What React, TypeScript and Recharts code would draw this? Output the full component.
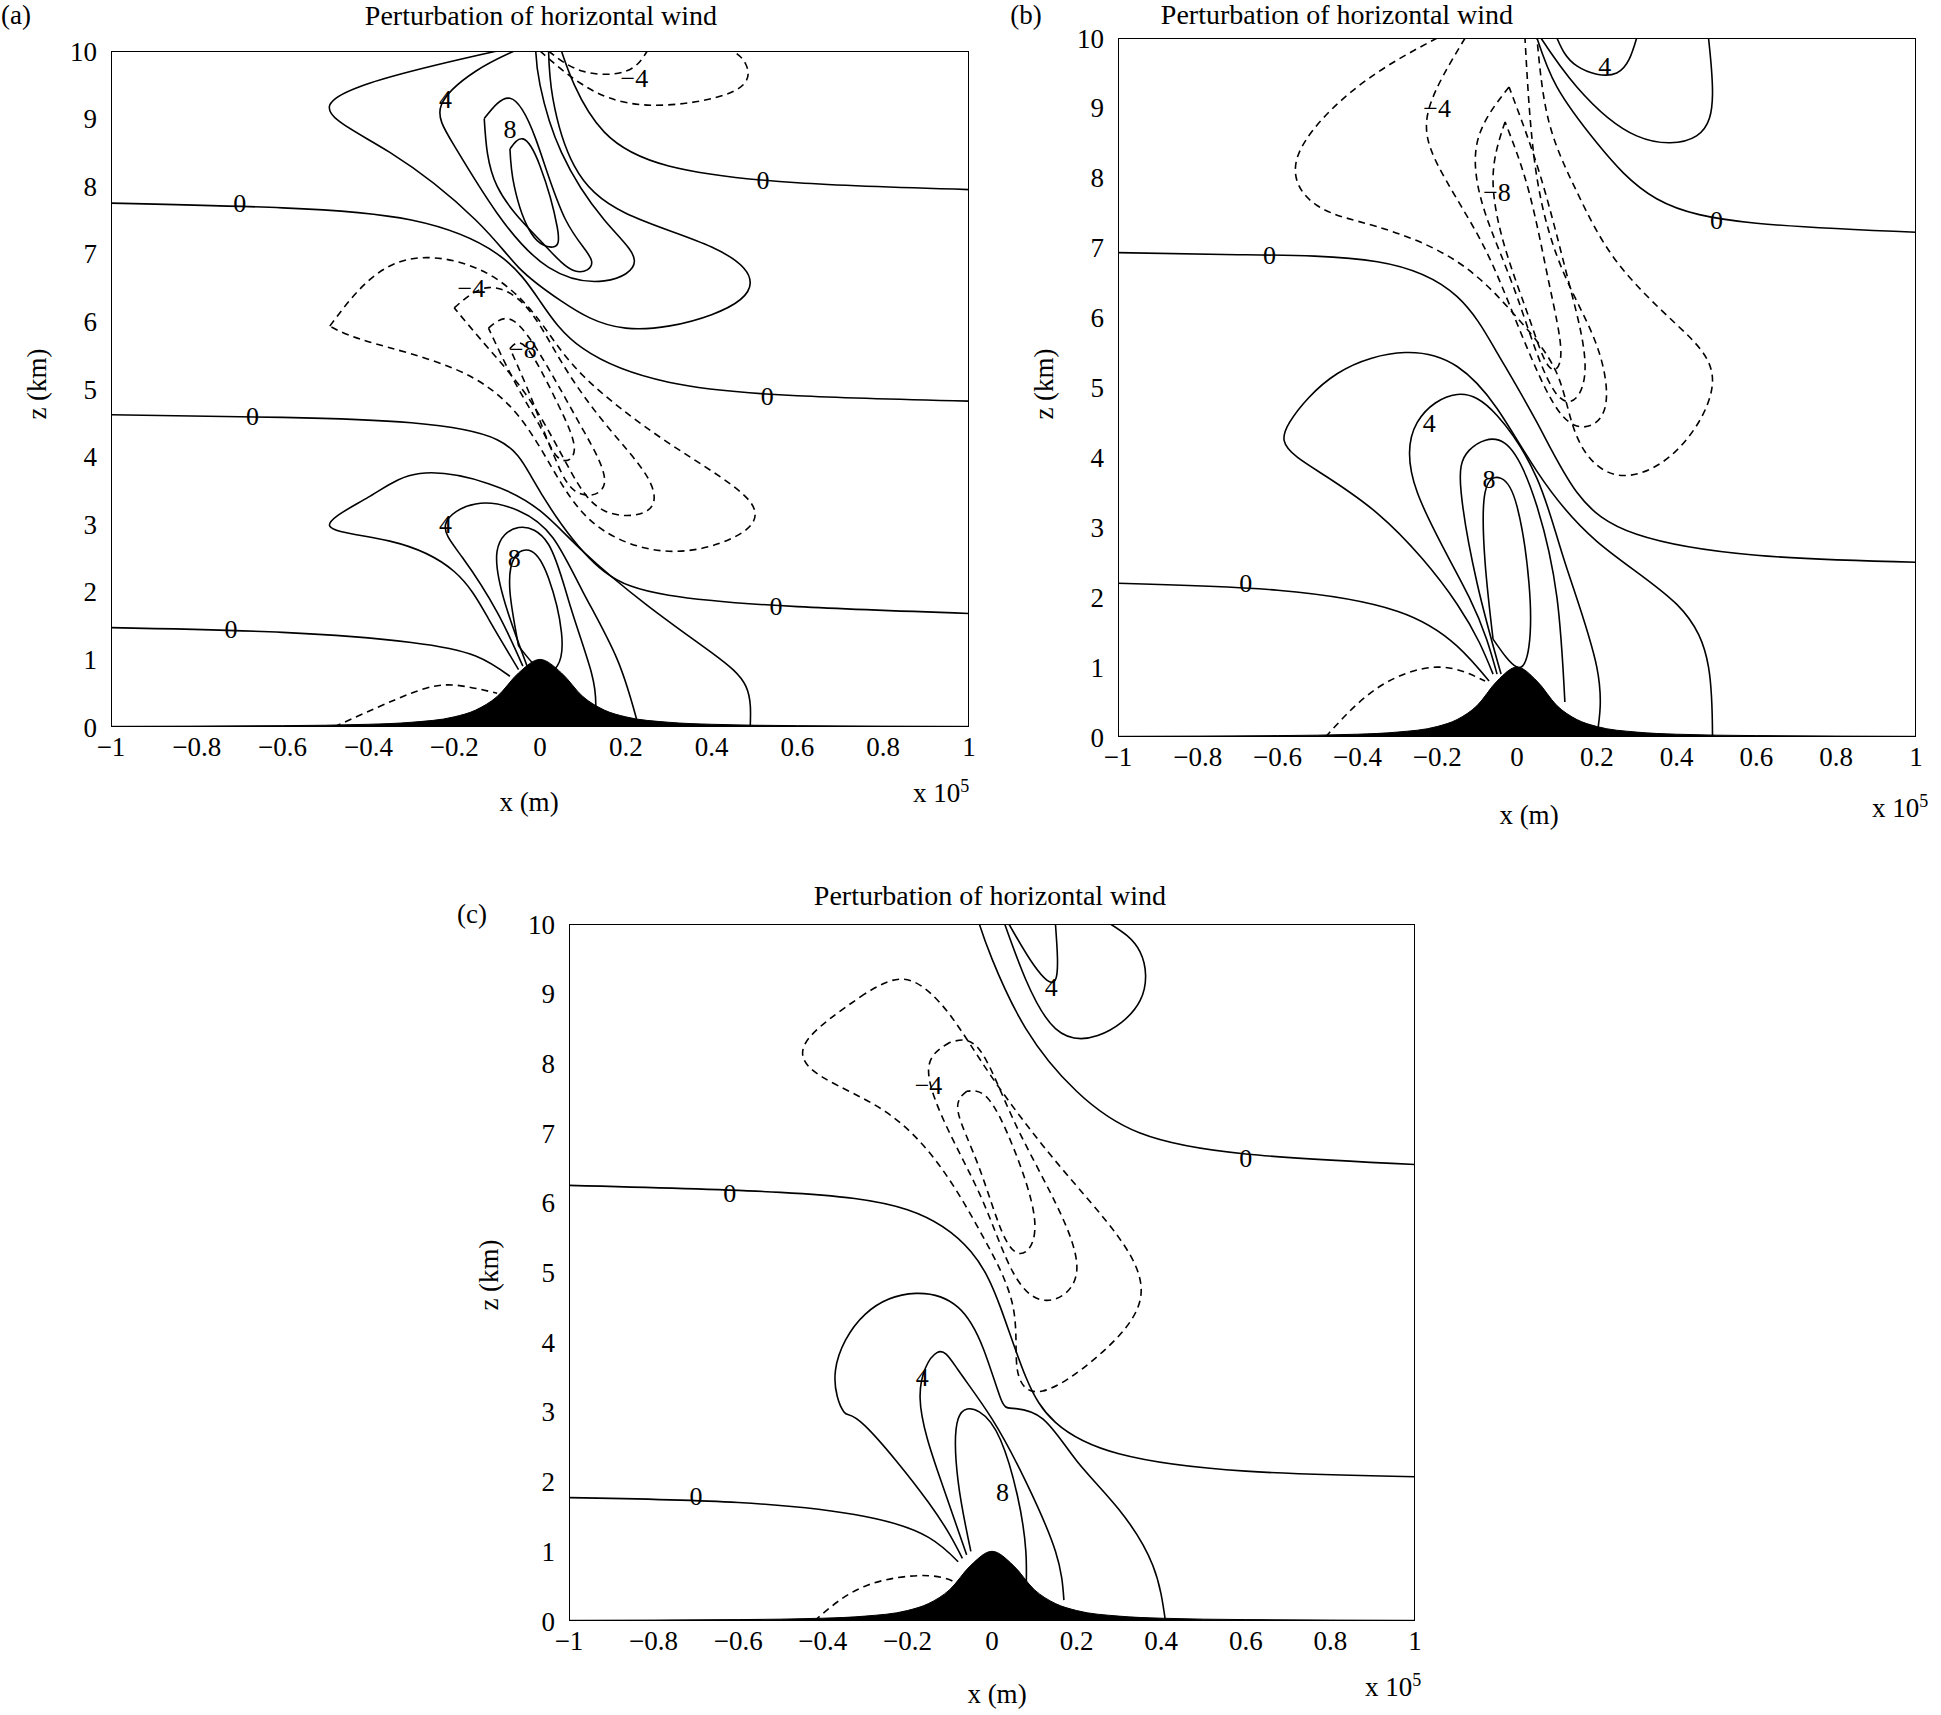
import { ComposedChart, Line, Area, XAxis, YAxis, ReferenceDot } from 'recharts'

type P = [number, number]

const xTicks = [-1, -0.8, -0.6, -0.4, -0.2, 0, 0.2, 0.4, 0.6, 0.8, 1]
const zTicks = [0, 1, 2, 3, 4, 5, 6, 7, 8, 9, 10]

const terrainX = [-1, -0.6, -0.4, -0.3, -0.2, -0.15, -0.1, -0.05, 0, 0.05, 0.1, 0.15, 0.2, 0.3, 0.4, 0.6, 1]
const terrainH = [0.01, 0.02, 0.04, 0.07, 0.15, 0.25, 0.45, 0.8, 1, 0.8, 0.45, 0.25, 0.15, 0.07, 0.04, 0.02, 0.01]

// panel (a)
const aSolid: P[][] = [
  [[-1, 1.47], [-0.6, 1.4], [-0.3, 1.25], [-0.15, 1.05], [-0.07, 0.75]],
  [[1, 1.68], [0.6, 1.78], [0.3, 1.95], [0.15, 2.3], [0.05, 3.0], [-0.02, 3.7], [-0.1, 4.25], [-0.3, 4.5], [-0.6, 4.58], [-1, 4.62]],
  [[1, 4.82], [0.6, 4.9], [0.3, 5.1], [0.1, 5.6], [0, 6.3], [-0.1, 7.0], [-0.3, 7.5], [-0.6, 7.68], [-1, 7.75]],
  [[1, 7.95], [0.6, 8.05], [0.3, 8.3], [0.15, 8.8], [0.08, 9.5], [0.05, 10]],
  [[-0.05, 0.85], [-0.12, 1.6], [-0.2, 2.3], [-0.35, 2.75], [-0.49, 2.97], [-0.4, 3.4], [-0.28, 3.75], [-0.12, 3.6], [0, 3.2], [0.1, 2.6], [0.25, 1.8], [0.4, 1.1], [0.48, 0.6], [0.49, 0]],
  [[-0.04, 0.9], [-0.1, 1.7], [-0.18, 2.5], [-0.22, 3.0], [-0.15, 3.3], [-0.05, 3.2], [0.03, 2.8], [0.1, 2.0], [0.18, 1.0], [0.23, 0]],
  [[-0.03, 0.9], [-0.08, 1.8], [-0.1, 2.6], [-0.05, 2.95], [0.02, 2.7], [0.07, 1.8], [0.12, 0.8], [0.13, 0.3]],
  [[-0.05, 1.2], [-0.07, 2.0], [-0.06, 2.5], [-0.02, 2.6], [0.02, 2.2], [0.05, 1.4], [0.04, 0.9], [0, 0.85], [-0.05, 1.2]],
  [[-0.1, 10], [-0.3, 9.7], [-0.49, 9.2], [-0.35, 8.5], [-0.15, 7.5], [-0.05, 6.8], [0.05, 6.3], [0.2, 5.9], [0.4, 6.1], [0.49, 6.57], [0.4, 7.1], [0.2, 7.6], [0.08, 8.3], [0.03, 9.3], [0.02, 10]],
  [[-0.06, 10], [-0.15, 9.7], [-0.23, 9.2], [-0.2, 8.6], [-0.1, 7.6], [0.02, 6.8], [0.15, 6.6], [0.22, 6.9], [0.15, 7.5], [0.05, 8.5], [0, 9.5], [-0.01, 10]],
  [[-0.13, 9.0], [-0.07, 9.3], [-0.01, 8.7], [0.06, 7.5], [0.12, 6.9], [0.08, 6.75], [0.0, 7.2], [-0.1, 8.0], [-0.13, 9.0]],
  [[-0.07, 8.55], [-0.04, 8.7], [0.0, 8.3], [0.04, 7.4], [0.03, 7.1], [-0.02, 7.3], [-0.06, 8.0], [-0.07, 8.55]],
]
const aDashed: P[][] = [
  [[-0.48, 0], [-0.3, 0.5], [-0.2, 0.62], [-0.1, 0.5]],
  [[-0.49, 5.93], [-0.4, 6.6], [-0.28, 6.94], [-0.12, 6.7], [0, 6.0], [0.1, 5.2], [0.3, 4.2], [0.49, 3.33], [0.45, 2.8], [0.3, 2.6], [0.15, 2.9], [0.05, 3.6], [-0.05, 4.6], [-0.2, 5.3], [-0.4, 5.7], [-0.49, 5.93]],
  [[-0.2, 6.2], [-0.12, 6.5], [-0.03, 6.2], [0.05, 5.4], [0.15, 4.5], [0.25, 3.7], [0.25, 3.2], [0.15, 3.2], [0.07, 3.8], [-0.02, 4.8], [-0.12, 5.6], [-0.2, 6.2]],
  [[-0.12, 5.9], [-0.06, 6.0], [0.02, 5.3], [0.1, 4.4], [0.15, 3.6], [0.08, 3.5], [0.02, 4.2], [-0.05, 5.0], [-0.12, 5.9]],
  [[-0.07, 5.6], [-0.03, 5.6], [0.04, 4.8], [0.08, 4.1], [0.04, 4.0], [-0.01, 4.7], [-0.07, 5.6]],
  [[0.0, 10], [0.1, 9.5], [0.25, 9.2], [0.45, 9.4], [0.48, 9.8], [0.45, 10]],
  [[0.02, 10], [0.1, 9.7], [0.2, 9.7], [0.25, 10]],
]
const aLabels: [number, number, string][] = [
  [-0.7, 7.75, '0'], [-0.67, 4.6, '0'], [-0.72, 1.45, '0'], [0.52, 8.1, '0'], [0.53, 4.9, '0'], [0.55, 1.8, '0'],
  [-0.22, 9.3, '4'], [-0.07, 8.85, '8'], [-0.16, 6.5, '−4'], [-0.04, 5.6, '−8'], [-0.22, 3.0, '4'], [-0.06, 2.5, '8'], [0.22, 9.6, '−4'],
]

// panel (b)
const bSolid: P[][] = [
  [[-1, 2.2], [-0.6, 2.1], [-0.3, 1.8], [-0.15, 1.3], [-0.07, 0.8]],
  [[1, 2.5], [0.6, 2.6], [0.3, 2.9], [0.15, 3.5], [0.05, 4.5], [-0.05, 5.5], [-0.15, 6.3], [-0.35, 6.8], [-0.7, 6.9], [-1, 6.93]],
  [[1, 7.22], [0.6, 7.35], [0.35, 7.7], [0.2, 8.5], [0.1, 9.3], [0.05, 10]],
  [[-0.06, 0.9], [-0.15, 1.9], [-0.35, 3.2], [-0.55, 4.0], [-0.57, 4.5], [-0.45, 5.2], [-0.28, 5.5], [-0.15, 5.3], [-0.05, 4.7], [0.05, 3.8], [0.2, 2.8], [0.4, 1.9], [0.48, 1.0], [0.49, 0]],
  [[-0.05, 0.9], [-0.12, 2.0], [-0.25, 3.5], [-0.25, 4.5], [-0.15, 4.9], [-0.05, 4.6], [0.05, 3.7], [0.12, 2.5], [0.2, 1.0], [0.2, 0]],
  [[-0.04, 0.9], [-0.1, 2.2], [-0.14, 3.5], [-0.12, 4.1], [-0.03, 4.2], [0.05, 3.3], [0.1, 2.0], [0.12, 0.5]],
  [[-0.06, 1.4], [-0.08, 2.5], [-0.08, 3.5], [-0.04, 3.7], [0, 3.3], [0.03, 2.2], [0.03, 1.3], [0, 1.0], [-0.06, 1.4]],
  [[0.06, 10], [0.15, 9.3], [0.3, 8.6], [0.45, 8.6], [0.49, 9.2], [0.48, 10]],
  [[0.1, 10], [0.15, 9.6], [0.25, 9.5], [0.3, 10]],
]
const bDashed: P[][] = [
  [[-0.48, 0], [-0.35, 0.7], [-0.2, 1.0], [-0.08, 0.8]],
  [[-0.2, 10], [-0.4, 9.3], [-0.55, 8.3], [-0.5, 7.6], [-0.35, 7.3], [-0.15, 6.8], [0, 6.0], [0.1, 5.2], [0.15, 4.3], [0.25, 3.75], [0.4, 4.1], [0.49, 5.1], [0.4, 5.9], [0.25, 6.8], [0.15, 7.8], [0.08, 8.8], [0.05, 10]],
  [[-0.13, 10], [-0.22, 9.0], [-0.2, 8.2], [-0.1, 7.2], [-0.02, 6.2], [0.07, 5.0], [0.15, 4.45], [0.22, 4.7], [0.2, 5.6], [0.12, 6.6], [0.05, 8], [0.02, 10]],
  [[-0.02, 9.3], [-0.1, 8.5], [-0.08, 7.5], [0, 6.3], [0.1, 4.9], [0.17, 5.2], [0.13, 6.5], [0.06, 8], [-0.02, 9.3]],
  [[-0.03, 8.8], [-0.06, 8], [-0.03, 7], [0.03, 6], [0.08, 5.3], [0.11, 5.5], [0.08, 6.5], [0.03, 7.8], [-0.03, 8.8]],
]
const bLabels: [number, number, string][] = [
  [-0.62, 6.9, '0'], [-0.68, 2.2, '0'], [0.5, 7.4, '0'], [-0.2, 9.0, '−4'], [-0.05, 7.8, '−8'],
  [-0.22, 4.5, '4'], [-0.07, 3.7, '8'], [0.22, 9.6, '4'],
]

// panel (c)
const cSolid: P[][] = [
  [[-1, 1.77], [-0.6, 1.7], [-0.3, 1.5], [-0.15, 1.2], [-0.08, 0.85]],
  [[1, 2.07], [0.6, 2.15], [0.3, 2.4], [0.15, 2.85], [0.08, 3.5], [0.02, 4.5], [-0.05, 5.3], [-0.2, 5.9], [-0.5, 6.15], [-1, 6.25]],
  [[1, 6.55], [0.6, 6.7], [0.35, 7.0], [0.2, 7.6], [0.08, 8.5], [0, 9.5], [-0.03, 10]],
  [[-0.07, 0.9], [-0.15, 1.7], [-0.3, 2.8], [-0.35, 3.0], [-0.37, 3.6], [-0.3, 4.4], [-0.18, 4.7], [-0.08, 4.5], [-0.02, 3.9], [0.02, 3.2], [0.05, 3.05], [0.12, 2.9], [0.2, 2.3], [0.3, 1.6], [0.38, 0.8], [0.41, 0]],
  [[-0.06, 0.95], [-0.12, 2.0], [-0.17, 3.2], [-0.13, 3.85], [-0.08, 3.6], [0.0, 2.9], [0.08, 2.0], [0.15, 1.0], [0.17, 0.3]],
  [[-0.05, 1.0], [-0.08, 2.0], [-0.08, 2.9], [-0.03, 3.0], [0.02, 2.6], [0.06, 1.8], [0.08, 1.0], [0.08, 0.3]],
  [[0.03, 10], [0.08, 9.2], [0.15, 8.5], [0.25, 8.4], [0.35, 8.9], [0.35, 9.6], [0.28, 10]],
  [[0.04, 10], [0.1, 9.4], [0.15, 9.2], [0.15, 10]],
]
const cDashed: P[][] = [
  [[-0.42, 0], [-0.3, 0.5], [-0.15, 0.65], [-0.07, 0.5]],
  [[-0.3, 9.0], [-0.44, 8.3], [-0.4, 7.8], [-0.25, 7.3], [-0.12, 6.5], [-0.02, 5.5], [0.05, 4.5], [0.06, 3.6], [0.12, 3.3], [0.25, 3.8], [0.35, 4.6], [0.3, 5.5], [0.15, 6.6], [0.0, 7.8], [-0.1, 8.7], [-0.2, 9.2], [-0.3, 9.0]],
  [[-0.1, 8.3], [-0.15, 7.9], [-0.1, 7.0], [-0.02, 6.0], [0.05, 5.0], [0.13, 4.6], [0.2, 5.0], [0.15, 6.0], [0.05, 7.2], [-0.03, 8.2], [-0.1, 8.3]],
  [[-0.06, 7.6], [-0.08, 7.3], [-0.03, 6.5], [0.03, 5.5], [0.08, 5.3], [0.1, 5.8], [0.05, 6.8], [-0.01, 7.5], [-0.06, 7.6]],
]
const cLabels: [number, number, string][] = [
  [-0.62, 6.15, '0'], [-0.7, 1.8, '0'], [0.6, 6.65, '0'], [-0.15, 7.7, '−4'], [-0.165, 3.5, '4'], [0.025, 1.85, '8'], [0.14, 9.1, '4'],
]

const FONT = '"Liberation Serif", "DejaVu Serif", serif'
const terrain = terrainX.map((x, i) => ({ x, z: terrainH[i] }))
const toPts = (c: P[]) => c.map(([x, z]) => ({ x, z }))
const fmt = (v: number) => String(v).replace('-', '−')

function Panel({ left, top, w, h, solid, dashed, labels }: {
  left: number; top: number; w: number; h: number
  solid: P[][]; dashed: P[][]; labels: [number, number, string][]
}) {
  const M = 70
  return (
    <div style={{ position: 'absolute', left: left - M, top: top - M }}>
      <ComposedChart width={w + 2 * M} height={h + 2 * M} margin={{ top: M, right: M, left: 0, bottom: 0 }}>
        <XAxis dataKey="x" type="number" domain={[-1, 1]} ticks={xTicks} allowDataOverflow
          height={M} tickLine={false} axisLine={false} tickFormatter={fmt}
          tick={{ fontSize: 27, fill: '#000', fontFamily: FONT }} tickMargin={4} />
        <YAxis dataKey="z" type="number" domain={[0, 10]} ticks={zTicks} allowDataOverflow
          width={M} tickLine={false} axisLine={false}
          tick={{ fontSize: 27, fill: '#000', fontFamily: FONT }} tickMargin={8} />
        <Area data={terrain} dataKey="z" type="monotone" fill="#000" fillOpacity={1} stroke="#000" isAnimationActive={false} />
        {solid.map((c, i) => (
          <Line key={'s' + i} data={toPts(c)} dataKey="z" type="natural" stroke="#000" strokeWidth={1.6} dot={false} isAnimationActive={false} />
        ))}
        {dashed.map((c, i) => (
          <Line key={'d' + i} data={toPts(c)} dataKey="z" type="natural" stroke="#000" strokeWidth={1.6} strokeDasharray="7 5" dot={false} isAnimationActive={false} />
        ))}
        {labels.map(([x, z, t], i) => (
          <ReferenceDot key={'l' + i} x={x} y={z} r={0} stroke="none"
            label={{ value: t, position: 'center', fontSize: 26, fill: '#000', fontFamily: FONT }} />
        ))}
      </ComposedChart>
      <div style={{ position: 'absolute', left: M, top: M, width: w, height: h, border: '1.5px solid #000', boxSizing: 'border-box', pointerEvents: 'none' }} />
    </div>
  )
}

function T({ x, y, children, size = 27, rot = false }: { x: number; y: number; children: any; size?: number; rot?: boolean }) {
  return (
    <div style={{ position: 'absolute', left: x, top: y, fontSize: size, fontFamily: FONT, whiteSpace: 'nowrap',
      transform: rot ? 'translate(-50%,-50%) rotate(-90deg)' : 'translate(-50%,-50%)' }}>{children}</div>
  )
}

export default function App() {
  return (
    <div style={{ position: 'absolute', left: 0, top: 0, width: 1941, height: 1715, background: '#fff', fontFamily: FONT }}>
      <Panel left={111} top={51} w={858} h={676} solid={aSolid} dashed={aDashed} labels={aLabels} />
      <Panel left={1118} top={38} w={798} h={699} solid={bSolid} dashed={bDashed} labels={bLabels} />
      <Panel left={569} top={924} w={846} h={697} solid={cSolid} dashed={cDashed} labels={cLabels} />

      <T x={16} y={15}>(a)</T>
      <T x={541} y={16} size={28}>Perturbation of horizontal wind</T>
      <T x={529} y={802}>x (m)</T>
      <T x={941} y={792}>x 10<sup style={{ fontSize: 18 }}>5</sup></T>
      <T x={37} y={384} rot>z (km)</T>

      <T x={1026} y={15}>(b)</T>
      <T x={1337} y={15} size={28}>Perturbation of horizontal wind</T>
      <T x={1529} y={815}>x (m)</T>
      <T x={1900} y={807}>x 10<sup style={{ fontSize: 18 }}>5</sup></T>
      <T x={1044} y={384} rot>z (km)</T>

      <T x={472} y={914}>(c)</T>
      <T x={990} y={896} size={28}>Perturbation of horizontal wind</T>
      <T x={997} y={1694}>x (m)</T>
      <T x={1393} y={1686}>x 10<sup style={{ fontSize: 18 }}>5</sup></T>
      <T x={489} y={1275} rot>z (km)</T>
    </div>
  )
}
